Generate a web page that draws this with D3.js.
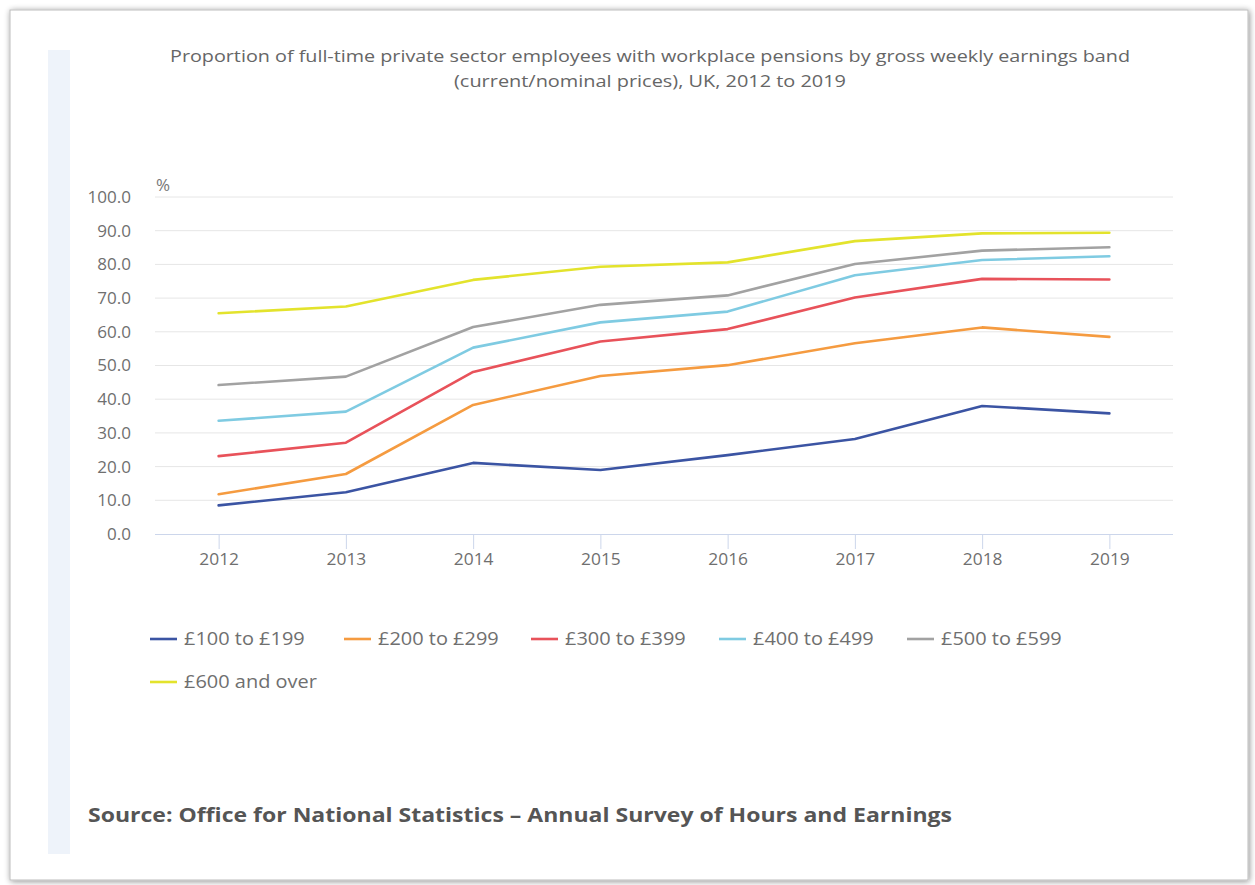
<!DOCTYPE html>
<html>
<head>
<meta charset="utf-8">
<script src="https://cdn.jsdelivr.net/npm/d3@7"></script>
<style>
  body { margin: 0; background: #fff; }
  svg text { font-family: "Open Sans", sans-serif; }
</style>
</head>
<body>
<div id="chart"></div>
<script>
const W = 1255, H = 885;
const years = ["2012", "2013", "2014", "2015", "2016", "2017", "2018", "2019"];
const bands = ["£100 to £199", "£200 to £299", "£300 to £399", "£400 to £499", "£500 to £599", "£600 and over"];
const band100 = [8.5, 12.4, 21.1, 19.0, 23.4, 28.2, 38.0, 35.8];
const band200 = [11.8, 17.8, 38.3, 46.9, 50.1, 56.6, 61.3, 58.5];
const band300 = [23.1, 27.1, 48.1, 57.1, 60.8, 70.2, 75.7, 75.5];
const band400 = [33.6, 36.3, 55.3, 62.8, 66.0, 76.8, 81.3, 82.4];
const band500 = [44.2, 46.7, 61.4, 68.0, 70.8, 80.1, 84.1, 85.1];
const band600 = [65.5, 67.5, 75.4, 79.3, 80.6, 86.9, 89.2, 89.4];
const yTicks = [0, 10, 20, 30, 40, 50, 60, 70, 80, 90, 100];
const series = [band100, band200, band300, band400, band500, band600];
const colors = ["#3b54a3", "#f59b40", "#e8525a", "#7fcbe2", "#a2a2a2", "#e3e32c"];

const PLOT = { left: 155, right: 1173, top: 197, bottom: 534 };

// the reference glyphs look a bit wider than normal, stretch them
function stretch(sel, k) {
    sel.each(function () {
        const w = this.getComputedTextLength();
        d3.select(this).attr("textLength", w * k).attr("lengthAdjust", "spacingAndGlyphs");
    });
}

const svg = d3.select("#chart").append("svg")
    .attr("width", W).attr("height", H);

// frame with soft shadow
const defs = svg.append("defs");
const f = defs.append("filter").attr("id", "sh").attr("x", "-5%").attr("y", "-5%").attr("width", "110%").attr("height", "110%");
f.append("feGaussianBlur").attr("in", "SourceAlpha").attr("stdDeviation", 3);
f.append("feOffset").attr("dx", 1).attr("dy", 1).attr("result", "b");
f.append("feComponentTransfer").append("feFuncA").attr("type", "linear").attr("slope", 0.45);
const fm = f.append("feMerge");
fm.append("feMergeNode");
fm.append("feMergeNode").attr("in", "SourceGraphic");

svg.append("rect").attr("x", 10).attr("y", 10).attr("width", 1238).attr("height", 870)
    .attr("fill", "#fff").attr("stroke", "#bdbdbd").attr("stroke-width", 1).attr("filter", "url(#sh)");
svg.append("rect").attr("x", 48).attr("y", 50).attr("width", 22).attr("height", 804).attr("fill", "#eef3fa");

// title
svg.append("text").attr("x", 650).attr("y", 62).attr("text-anchor", "middle")
    .attr("fill", "#666").style("font-size", "16px")
    .attr("textLength", 960).attr("lengthAdjust", "spacingAndGlyphs")
    .text("Proportion of full-time private sector employees with workplace pensions by gross weekly earnings band");
svg.append("text").attr("x", 650).attr("y", 87).attr("text-anchor", "middle")
    .attr("fill", "#666").style("font-size", "16px")
    .attr("textLength", 392).attr("lengthAdjust", "spacingAndGlyphs")
    .text("(current/nominal prices), UK, 2012 to 2019");

// scales
const x = d3.scalePoint().domain(years).range([PLOT.left, PLOT.right]).padding(0.5);
const y = d3.scaleLinear().domain([0, 100]).range([PLOT.bottom, PLOT.top]);

// grid
svg.append("g").selectAll("line").data(yTicks.filter(d => d > 0)).join("line")
    .attr("x1", PLOT.left).attr("x2", PLOT.right)
    .attr("y1", d => y(d)).attr("y2", d => y(d))
    .attr("stroke", "#e6e6e6").attr("stroke-width", 1);

// y axis
const yAx = svg.append("g").attr("transform", "translate(" + PLOT.left + ",0)")
    .call(d3.axisLeft(y).tickValues(yTicks).tickFormat(d3.format(".1f")).tickSize(0).tickPadding(24));
yAx.select(".domain").remove();
yAx.selectAll("text").attr("fill", "#6f6f6f").style("font-size", "15.5px").attr("dy", "0.35em").call(stretch, 1.1);

svg.append("text").attr("x", 156).attr("y", 191).attr("fill", "#777").style("font-size", "17px").text("%");

// x axis
const xAx = svg.append("g").attr("transform", "translate(0," + PLOT.bottom + ")")
    .call(d3.axisBottom(x).tickSize(15).tickPadding(5).tickSizeOuter(0));
xAx.select(".domain").attr("stroke", "#ccd6eb").attr("d", "M" + PLOT.left + ",0.5H" + PLOT.right);
xAx.selectAll(".tick line").attr("stroke", "#ccd6eb");
xAx.selectAll("text").attr("fill", "#6f6f6f").style("font-size", "15.5px").call(stretch, 1.12);

// lines
const line = d3.line().x((d, i) => x(years[i])).y(d => y(d));
svg.append("g").selectAll("path").data(series).join("path")
    .attr("d", line)
    .attr("fill", "none")
    .attr("stroke", (d, i) => colors[i])
    .attr("stroke-width", 2.6)
    .attr("stroke-linejoin", "round")
    .attr("stroke-linecap", "round");

// legend
const legendPos = [[150, 639], [344, 639], [531, 639], [719, 639], [907, 639], [150, 682]];
const lg = svg.append("g").selectAll("g").data(bands).join("g")
    .attr("transform", (d, i) => "translate(" + legendPos[i][0] + "," + legendPos[i][1] + ")");
lg.append("line").attr("x1", 0).attr("x2", 27).attr("y1", 0).attr("y2", 0)
    .attr("stroke", (d, i) => colors[i]).attr("stroke-width", 2.6);
lg.append("text").attr("x", 34).attr("y", 0).attr("dy", "0.35em")
    .attr("fill", "#6f6f6f").style("font-size", "17.5px").text(d => d)
    .call(stretch, 1.14);

// source
svg.append("text").attr("x", 88).attr("y", 822).attr("fill", "#555")
    .style("font-size", "20px").style("font-weight", "bold")
    .attr("textLength", 864).attr("lengthAdjust", "spacingAndGlyphs")
    .text("Source: Office for National Statistics – Annual Survey of Hours and Earnings");
</script>
</body>
</html>
